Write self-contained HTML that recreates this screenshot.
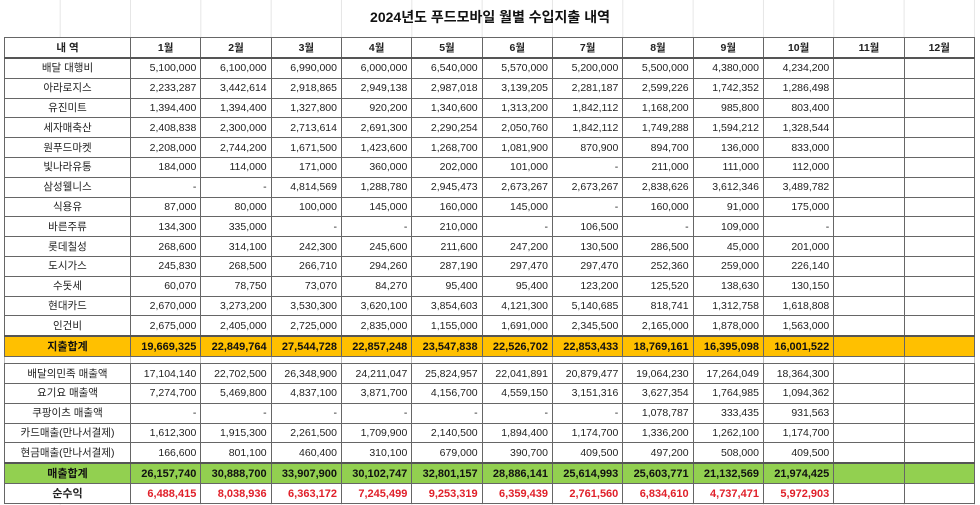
<!DOCTYPE html>
<html><head><meta charset="utf-8"><style>
html,body{margin:0;padding:0;background:#fff;width:980px;height:505px;overflow:hidden;font-family:"Liberation Sans","Noto Sans CJK KR",sans-serif;}
.grid{position:absolute;left:0;top:0;width:980px;height:505px;
background-image:linear-gradient(to right,#e6e6e6 1px,transparent 1px);background-size:70.33px 100%;background-position:130px 0;}
.title{position:absolute;left:0;width:980px;top:7px;text-align:center;font-weight:bold;font-size:14px;color:#111;}
table{position:absolute;left:4px;top:37px;border-collapse:collapse;table-layout:fixed;width:970px;font-size:10.5px;color:#222;}
td{border:1px solid #666;padding:0 4px 0 0;text-align:right;white-space:nowrap;overflow:hidden;height:18.8px;line-height:18px;background:#fff;}
td:first-child{text-align:center;padding:0;}
tr.h td{text-align:center;font-weight:bold;height:19px;border-bottom:2px solid #555;padding:0;}
tr.y td{background:#ffc000;font-weight:bold;font-size:11px;color:#111;border-top:2px solid #555;height:19px;}
tr.g td{background:#92d050;font-weight:bold;font-size:11px;color:#111;border-top:2px solid #555;height:19px;}
tr.r td{color:#e0202a;font-weight:bold;font-size:11px;}
tr.r td:first-child{color:#222;}
tr.gap td{height:6px;line-height:6px;border-left:1px solid #bbb;border-right:1px solid #bbb;}
</style></head><body>
<div class="grid"></div>
<div class="title">2024년도 푸드모바일 월별 수입지출 내역</div>
<table>
<colgroup><col style="width:126px"><col span="12" style="width:70.33px"></colgroup>
<tr class="h"><td>내 역</td><td>1월</td><td>2월</td><td>3월</td><td>4월</td><td>5월</td><td>6월</td><td>7월</td><td>8월</td><td>9월</td><td>10월</td><td>11월</td><td>12월</td></tr>
<tr><td>배달 대행비</td><td>5,100,000</td><td>6,100,000</td><td>6,990,000</td><td>6,000,000</td><td>6,540,000</td><td>5,570,000</td><td>5,200,000</td><td>5,500,000</td><td>4,380,000</td><td>4,234,200</td><td></td><td></td></tr>
<tr><td>아라로지스</td><td>2,233,287</td><td>3,442,614</td><td>2,918,865</td><td>2,949,138</td><td>2,987,018</td><td>3,139,205</td><td>2,281,187</td><td>2,599,226</td><td>1,742,352</td><td>1,286,498</td><td></td><td></td></tr>
<tr><td>유진미트</td><td>1,394,400</td><td>1,394,400</td><td>1,327,800</td><td>920,200</td><td>1,340,600</td><td>1,313,200</td><td>1,842,112</td><td>1,168,200</td><td>985,800</td><td>803,400</td><td></td><td></td></tr>
<tr><td>세자매축산</td><td>2,408,838</td><td>2,300,000</td><td>2,713,614</td><td>2,691,300</td><td>2,290,254</td><td>2,050,760</td><td>1,842,112</td><td>1,749,288</td><td>1,594,212</td><td>1,328,544</td><td></td><td></td></tr>
<tr><td>원푸드마켓</td><td>2,208,000</td><td>2,744,200</td><td>1,671,500</td><td>1,423,600</td><td>1,268,700</td><td>1,081,900</td><td>870,900</td><td>894,700</td><td>136,000</td><td>833,000</td><td></td><td></td></tr>
<tr><td>빛나라유통</td><td>184,000</td><td>114,000</td><td>171,000</td><td>360,000</td><td>202,000</td><td>101,000</td><td>-</td><td>211,000</td><td>111,000</td><td>112,000</td><td></td><td></td></tr>
<tr><td>삼성웰니스</td><td>-</td><td>-</td><td>4,814,569</td><td>1,288,780</td><td>2,945,473</td><td>2,673,267</td><td>2,673,267</td><td>2,838,626</td><td>3,612,346</td><td>3,489,782</td><td></td><td></td></tr>
<tr><td>식용유</td><td>87,000</td><td>80,000</td><td>100,000</td><td>145,000</td><td>160,000</td><td>145,000</td><td>-</td><td>160,000</td><td>91,000</td><td>175,000</td><td></td><td></td></tr>
<tr><td>바른주류</td><td>134,300</td><td>335,000</td><td>-</td><td>-</td><td>210,000</td><td>-</td><td>106,500</td><td>-</td><td>109,000</td><td>-</td><td></td><td></td></tr>
<tr><td>롯데칠성</td><td>268,600</td><td>314,100</td><td>242,300</td><td>245,600</td><td>211,600</td><td>247,200</td><td>130,500</td><td>286,500</td><td>45,000</td><td>201,000</td><td></td><td></td></tr>
<tr><td>도시가스</td><td>245,830</td><td>268,500</td><td>266,710</td><td>294,260</td><td>287,190</td><td>297,470</td><td>297,470</td><td>252,360</td><td>259,000</td><td>226,140</td><td></td><td></td></tr>
<tr><td>수돗세</td><td>60,070</td><td>78,750</td><td>73,070</td><td>84,270</td><td>95,400</td><td>95,400</td><td>123,200</td><td>125,520</td><td>138,630</td><td>130,150</td><td></td><td></td></tr>
<tr><td>현대카드</td><td>2,670,000</td><td>3,273,200</td><td>3,530,300</td><td>3,620,100</td><td>3,854,603</td><td>4,121,300</td><td>5,140,685</td><td>818,741</td><td>1,312,758</td><td>1,618,808</td><td></td><td></td></tr>
<tr><td>인건비</td><td>2,675,000</td><td>2,405,000</td><td>2,725,000</td><td>2,835,000</td><td>1,155,000</td><td>1,691,000</td><td>2,345,500</td><td>2,165,000</td><td>1,878,000</td><td>1,563,000</td><td></td><td></td></tr>
<tr class="y"><td>지출합계</td><td>19,669,325</td><td>22,849,764</td><td>27,544,728</td><td>22,857,248</td><td>23,547,838</td><td>22,526,702</td><td>22,853,433</td><td>18,769,161</td><td>16,395,098</td><td>16,001,522</td><td></td><td></td></tr>
<tr class="gap"><td></td><td></td><td></td><td></td><td></td><td></td><td></td><td></td><td></td><td></td><td></td><td></td><td></td></tr>
<tr><td>배달의민족 매출액</td><td>17,104,140</td><td>22,702,500</td><td>26,348,900</td><td>24,211,047</td><td>25,824,957</td><td>22,041,891</td><td>20,879,477</td><td>19,064,230</td><td>17,264,049</td><td>18,364,300</td><td></td><td></td></tr>
<tr><td>요기요 매출액</td><td>7,274,700</td><td>5,469,800</td><td>4,837,100</td><td>3,871,700</td><td>4,156,700</td><td>4,559,150</td><td>3,151,316</td><td>3,627,354</td><td>1,764,985</td><td>1,094,362</td><td></td><td></td></tr>
<tr><td>쿠팡이츠 매출액</td><td>-</td><td>-</td><td>-</td><td>-</td><td>-</td><td>-</td><td>-</td><td>1,078,787</td><td>333,435</td><td>931,563</td><td></td><td></td></tr>
<tr><td>카드매출(만나서결제)</td><td>1,612,300</td><td>1,915,300</td><td>2,261,500</td><td>1,709,900</td><td>2,140,500</td><td>1,894,400</td><td>1,174,700</td><td>1,336,200</td><td>1,262,100</td><td>1,174,700</td><td></td><td></td></tr>
<tr><td>현금매출(만나서결제)</td><td>166,600</td><td>801,100</td><td>460,400</td><td>310,100</td><td>679,000</td><td>390,700</td><td>409,500</td><td>497,200</td><td>508,000</td><td>409,500</td><td></td><td></td></tr>
<tr class="g"><td>매출합계</td><td>26,157,740</td><td>30,888,700</td><td>33,907,900</td><td>30,102,747</td><td>32,801,157</td><td>28,886,141</td><td>25,614,993</td><td>25,603,771</td><td>21,132,569</td><td>21,974,425</td><td></td><td></td></tr>
<tr class="r"><td>순수익</td><td>6,488,415</td><td>8,038,936</td><td>6,363,172</td><td>7,245,499</td><td>9,253,319</td><td>6,359,439</td><td>2,761,560</td><td>6,834,610</td><td>4,737,471</td><td>5,972,903</td><td></td><td></td></tr>
</table>
</body></html>
